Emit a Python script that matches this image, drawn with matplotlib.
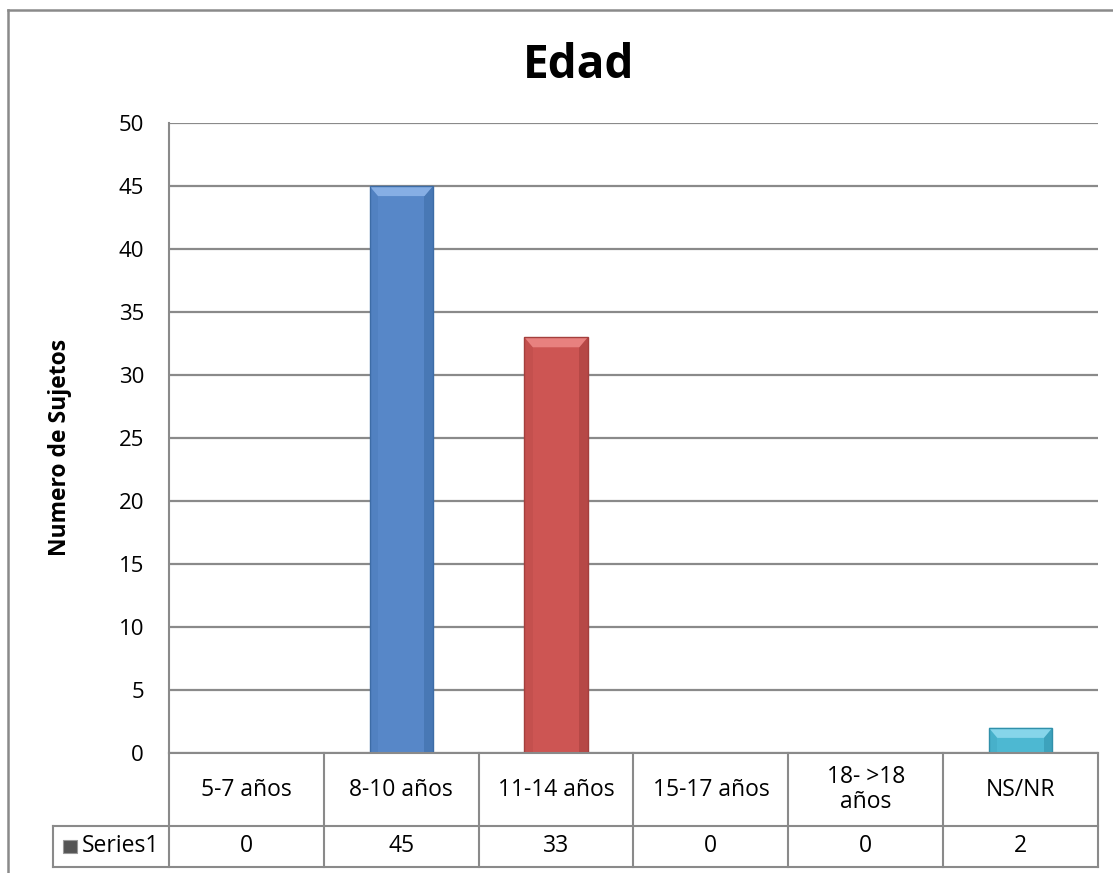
import matplotlib
matplotlib.use("Agg")
import matplotlib.pyplot as plt
from matplotlib.patches import Rectangle, Polygon
from matplotlib.lines import Line2D
import matplotlib.transforms as mtransforms

plt.rcParams['font.family'] = ['Open Sans', 'DejaVu Sans']

# ---- data ----
categories = ["5-7 años", "8-10 años", "11-14 años", "15-17 años", "18- >18\naños", "NS/NR"]
values = [0, 45, 33, 0, 0, 2]
series_name = "Series1"
title = "Edad"
ylabel = "Numero de Sujetos"
yticks = [0, 5, 10, 15, 20, 25, 30, 35, 40, 45, 50]

face = ["#5787C8", "#5787C8", "#CD5553", "#5787C8", "#5787C8", "#4DB8D2"]
light = ["#86AEE4", "#86AEE4", "#E8817F", "#86AEE4", "#86AEE4", "#86D5EA"]
dark = ["#3D6CA6", "#3D6CA6", "#A43F3D", "#3D6CA6", "#3D6CA6", "#3190AA"]

W, H = 1113, 873
fig = plt.figure(figsize=(W / 100, H / 100), dpi=100)

L, R, T, B = 169, 1098, 123, 753
ax = fig.add_axes([L / W, 1 - B / H, (R - L) / W, (B - T) / H])
ax.set_xlim(-0.5, len(categories) - 0.5)
ax.set_ylim(0, 50)
ax.set_yticks(yticks)
ax.set_xticks([])
ax.tick_params(axis='y', length=0, pad=18, labelsize=16)
for s in ["top", "right", "bottom"]:
    ax.spines[s].set_visible(False)
gridgray = "#8A8A8A"
ax.spines["left"].set_color(gridgray)
ax.spines["left"].set_linewidth(1.5)
ax.yaxis.grid(True, color=gridgray, linewidth=1.6)
ax.set_axisbelow(True)

bw = 0.41
bev_x = 0.055
bev_y = 0.8
for i, v in enumerate(values):
    if v <= 0:
        continue
    x0, x1 = i - bw / 2, i + bw / 2
    ax.add_patch(Rectangle((x0, 0), bw, v, facecolor=face[i], edgecolor='none', zorder=3))
    by = min(bev_y, v * 0.5)
    # right bevel
    ax.add_patch(Polygon([(x1, v), (x1, 0), (x1 - bev_x, 0), (x1 - bev_x, v - by)],
                         closed=True, facecolor=dark[i], edgecolor='none', alpha=0.55, zorder=4))
    # left bevel
    ax.add_patch(Polygon([(x0, v), (x0, 0), (x0 + bev_x, 0), (x0 + bev_x, v - by)],
                         closed=True, facecolor=dark[i], edgecolor='none', alpha=0.2, zorder=4))
    # top bevel
    ax.add_patch(Polygon([(x0, v), (x1, v), (x1 - bev_x, v - by), (x0 + bev_x, v - by)],
                         closed=True, facecolor=light[i], edgecolor='none', zorder=4))
    ax.add_patch(Rectangle((x0, 0), bw, v, facecolor='none', edgecolor=dark[i], linewidth=1.0, zorder=5))

# ---- data table ----
blend = mtransforms.blended_transform_factory(ax.transData, ax.transAxes)
h = B - T
y_axis = 0.0
y_hdr = -(826 - B) / h
y_bot = -(867 - B) / h
x_leg = (53 - L) / (R - L)
lw = 1.5
ax.add_line(Line2D([0, 1], [y_axis, y_axis], transform=ax.transAxes, color=gridgray, lw=lw, clip_on=False, zorder=6))
ax.add_line(Line2D([x_leg, 1], [y_hdr, y_hdr], transform=ax.transAxes, color=gridgray, lw=lw, clip_on=False))
ax.add_line(Line2D([x_leg, 1], [y_bot, y_bot], transform=ax.transAxes, color=gridgray, lw=lw, clip_on=False))
ax.add_line(Line2D([x_leg, x_leg], [y_hdr, y_bot], transform=ax.transAxes, color=gridgray, lw=lw, clip_on=False))
ax.add_line(Line2D([0, 0], [0, y_bot], transform=ax.transAxes, color=gridgray, lw=lw, clip_on=False))
for i in range(1, len(categories) + 1):
    ax.add_line(Line2D([i - 0.5, i - 0.5], [y_axis, y_bot], transform=blend, color=gridgray, lw=lw, clip_on=False))

for i, (c, v) in enumerate(zip(categories, values)):
    ax.text(i, (y_axis + y_hdr) / 2, c, transform=blend, ha='center', va='center', fontsize=16.5,
            linespacing=1.05, clip_on=False)
    ax.text(i, (y_hdr + y_bot) / 2, str(v), transform=blend, ha='center', va='center', fontsize=16.5, clip_on=False)

# legend cell
ax.add_patch(Rectangle(((63 - L) / (R - L), -(853 - B) / h), 14 / (R - L), 13 / h, transform=ax.transAxes,
                       facecolor="#555555", edgecolor="#999999", lw=0.8, clip_on=False))
ax.text((82 - L) / (R - L), (y_hdr + y_bot) / 2, series_name, transform=ax.transAxes, ha='left', va='center',
        fontsize=16.5, clip_on=False)

# title and y label
fig.text(579 / W, 1 - 66 / H, title, ha='center', va='center', fontsize=33, fontweight='bold')
fig.text(60 / W, 1 - 447 / H, ylabel, ha='center', va='center', fontsize=16.5, fontweight='bold', rotation=90)

# outer chart border
fig.add_artist(Line2D([8 / W, 8 / W], [0, 1 - 10 / H], transform=fig.transFigure, color=gridgray, lw=1.8))
fig.add_artist(Line2D([8 / W, 1], [1 - 10 / H, 1 - 10 / H], transform=fig.transFigure, color=gridgray, lw=1.8))

fig.savefig("out.png", dpi=100)
